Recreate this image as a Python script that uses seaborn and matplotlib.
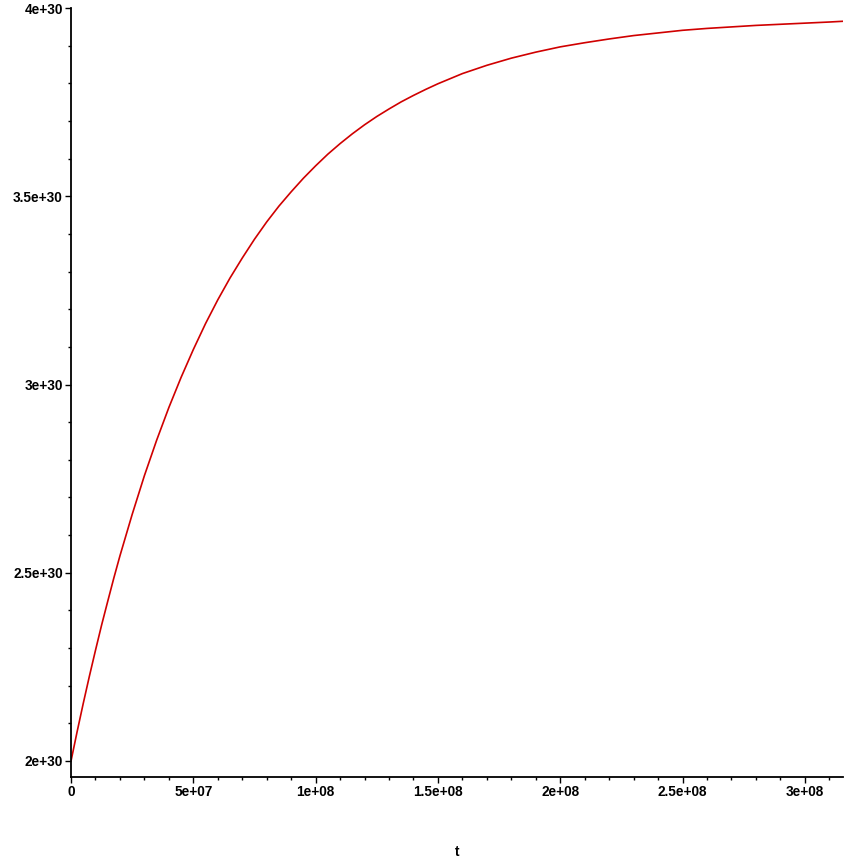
import pandas as pd
import numpy as np
import seaborn as sns
import matplotlib.pyplot as plt
from matplotlib.ticker import FixedLocator, MultipleLocator

# values (denser where it bends most)
t_vals = [0, 2.5e6, 5e6, 7.5e6, 1e7, 1.25e7, 1.5e7, 1.75e7, 2e7, 2.5e7, 3e7,
          3.5e7, 4e7, 4.5e7, 5e7, 5.5e7, 6e7, 6.5e7, 7e7, 7.5e7, 8e7, 8.5e7,
          9e7, 9.5e7, 1e8, 1.05e8, 1.1e8, 1.15e8, 1.2e8, 1.25e8, 1.3e8, 1.35e8,
          1.4e8, 1.45e8, 1.5e8, 1.6e8, 1.7e8, 1.8e8, 1.9e8, 2e8,
          2.1e8, 2.2e8, 2.3e8, 2.4e8, 2.5e8, 2.6e8, 2.7e8, 2.8e8, 2.9e8, 3e8,
          3.1e8, 3.156e8]
y_vals = [2.000e30, 2.078e30, 2.153e30, 2.225e30, 2.294e30, 2.361e30, 2.424e30,
          2.486e30, 2.545e30, 2.655e30, 2.758e30, 2.852e30, 2.939e30, 3.019e30,
          3.093e30, 3.162e30, 3.225e30, 3.283e30, 3.336e30, 3.386e30, 3.432e30,
          3.474e30, 3.512e30, 3.548e30, 3.581e30, 3.612e30, 3.640e30, 3.666e30,
          3.690e30, 3.712e30, 3.732e30, 3.751e30, 3.768e30, 3.784e30, 3.799e30,
          3.826e30, 3.848e30, 3.867e30, 3.883e30, 3.897e30,
          3.908e30, 3.918e30, 3.927e30, 3.934e30, 3.941e30, 3.946e30, 3.950e30,
          3.954e30, 3.957e30, 3.960e30, 3.963e30, 3.965e30]

x_ticks = [0, 5e7, 1e8, 1.5e8, 2e8, 2.5e8, 3e8]
x_ticklabels = ['0', '5e+07', '1e+08', '1.5e+08', '2e+08', '2.5e+08', '3e+08']
y_ticks = [2e30, 2.5e30, 3e30, 3.5e30, 4e30]
y_ticklabels = ['2e+30', '2.5e+30', '3e+30', '3.5e+30', '4e+30']

df = pd.DataFrame({'t': t_vals, 'y': y_vals})

sns.set_theme(style='white')
plt.rcParams['font.family'] = ['Liberation Sans', 'DejaVu Sans']

fig = plt.figure(figsize=(8.61, 8.61), dpi=100)
ax = fig.add_axes([0.0825, 0.0976, 0.8966, 0.893])

sns.lineplot(data=df, x='t', y='y', color='#d00000', linewidth=1.2, ax=ax)

ax.set_xlim(0, 3.156e8)
ax.set_ylim(1.9574e30, 4.0e30)

for side in ['top', 'right']:
    ax.spines[side].set_visible(False)
for side in ['left', 'bottom']:
    ax.spines[side].set_color('black')
    ax.spines[side].set_linewidth(1.3)

ax.xaxis.set_major_locator(FixedLocator(x_ticks))
ax.yaxis.set_major_locator(FixedLocator(y_ticks))
ax.xaxis.set_minor_locator(MultipleLocator(1e7))
ax.yaxis.set_minor_locator(MultipleLocator(1e29))
ax.set_xticklabels(x_ticklabels)
ax.set_yticklabels(y_ticklabels)

ax.tick_params(which='major', direction='out', length=4, width=1, color='black',
               labelsize=9.8, pad=2, left=True, bottom=True)
ax.tick_params(which='minor', direction='out', length=2, width=1, color='black',
               left=True, bottom=True)
for lab in ax.get_xticklabels() + ax.get_yticklabels():
    lab.set_fontweight('bold')
    lab.set_color('black')

ax.set_xlabel('t', fontsize=9.8, fontweight='bold', color='black', va='center')
ax.xaxis.set_label_coords(0.5, -0.0975)
ax.set_ylabel('')

fig.savefig('out.png', dpi=100, facecolor='white')
